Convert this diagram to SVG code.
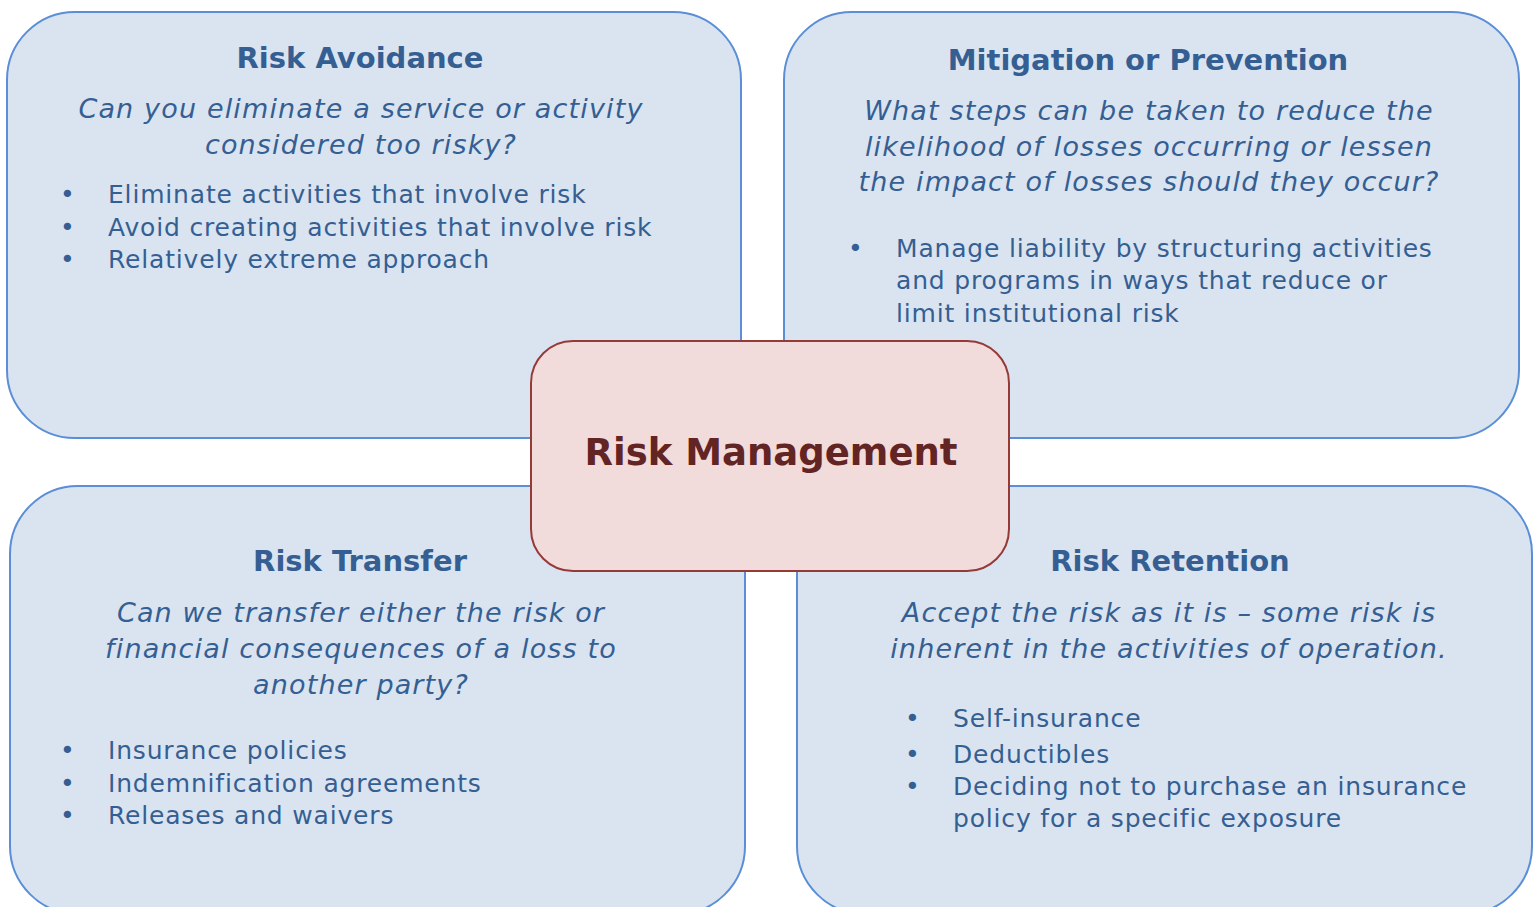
<svg xmlns="http://www.w3.org/2000/svg" width="1539" height="907" viewBox="0 0 1539 907">
<style>
.q{fill:#dae4f1;stroke:#5a8ed6;stroke-width:2}
.c{fill:#f1dbdb;stroke:#963a38;stroke-width:2}
text{font-family:"DejaVu Sans","Verdana",sans-serif;fill:#355f92}
.t{font-weight:bold;font-size:29px;text-anchor:middle}
.i{font-style:italic;font-size:27px;text-anchor:middle;letter-spacing:1.15px}
.b{font-size:25px;letter-spacing:0.82px}
.ct{font-weight:bold;font-size:37px;text-anchor:middle;fill:#632424}
</style>
<rect width="1539" height="907" fill="#ffffff"/>
<g id="connectors"></g>
<g id="avoidance">
<rect class="q" x="7" y="12" width="734" height="426" rx="68" ry="68"/>
<text class="t" x="360" y="68">Risk Avoidance</text>
<text class="i" x="361" y="118">Can you eliminate a service or activity</text>
<text class="i" x="361" y="154">considered too risky?</text>
<text class="b" x="60" y="203">•</text><text class="b" x="108" y="203">Eliminate activities that involve risk</text>
<text class="b" x="60" y="236">•</text><text class="b" x="108" y="236">Avoid creating activities that involve risk</text>
<text class="b" x="60" y="268">•</text><text class="b" x="108" y="268">Relatively extreme approach</text>
</g>
<g id="mitigation">
<rect class="q" x="784" y="12" width="735" height="426" rx="68" ry="68"/>
<text class="t" x="1148" y="70">Mitigation or Prevention</text>
<text class="i" x="1149" y="120">What steps can be taken to reduce the</text>
<text class="i" x="1149" y="156">likelihood of losses occurring or lessen</text>
<text class="i" x="1149" y="191">the impact of losses should they occur?</text>
<text class="b" x="848" y="257">•</text><text class="b" x="896" y="257">Manage liability by structuring activities</text>
<text class="b" x="896" y="289">and programs in ways that reduce or</text>
<text class="b" x="896" y="322">limit institutional risk</text>
</g>
<g id="transfer">
<rect class="q" x="10" y="486" width="735" height="428" rx="68" ry="68"/>
<text class="t" x="360" y="571">Risk Transfer</text>
<text class="i" x="361" y="622">Can we transfer either the risk or</text>
<text class="i" x="361" y="658">financial consequences of a loss to</text>
<text class="i" x="361" y="694">another party?</text>
<text class="b" x="60" y="759">•</text><text class="b" x="108" y="759">Insurance policies</text>
<text class="b" x="60" y="792">•</text><text class="b" x="108" y="792">Indemnification agreements</text>
<text class="b" x="60" y="824">•</text><text class="b" x="108" y="824">Releases and waivers</text>
</g>
<g id="retention">
<rect class="q" x="797" y="486" width="735" height="428" rx="68" ry="68"/>
<text class="t" x="1170" y="571">Risk Retention</text>
<text class="i" x="1169" y="622">Accept the risk as it is – some risk is</text>
<text class="i" x="1169" y="658">inherent in the activities of operation.</text>
<text class="b" x="905" y="727">•</text><text class="b" x="953" y="727">Self-insurance</text>
<text class="b" x="905" y="763">•</text><text class="b" x="953" y="763">Deductibles</text>
<text class="b" x="905" y="795">•</text><text class="b" x="953" y="795">Deciding not to purchase an insurance</text>
<text class="b" x="953" y="827">policy for a specific exposure</text>
</g>
<g id="center">
<rect class="c" x="531" y="341" width="478" height="230" rx="42" ry="42"/>
<text class="ct" x="771" y="465">Risk Management</text>
</g>
</svg>
